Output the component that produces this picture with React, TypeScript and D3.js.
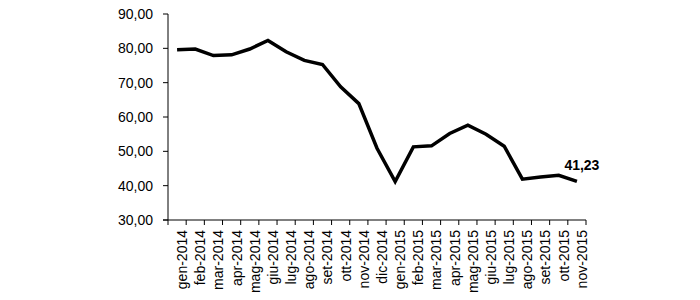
import React from "react";
import * as d3 from "d3";

const categories = [
  "gen-2014","feb-2014","mar-2014","apr-2014","mag-2014","giu-2014","lug-2014","ago-2014","set-2014","ott-2014","nov-2014","dic-2014",
  "gen-2015","feb-2015","mar-2015","apr-2015","mag-2015","giu-2015","lug-2015","ago-2015","set-2015","ott-2015","nov-2015",
];
const values = [
  79.6, 79.8, 77.9, 78.1, 79.8, 82.3, 79.0, 76.5, 75.3, 68.8, 63.9, 50.9,
  41.2, 51.3, 51.6, 55.2, 57.6, 55.0, 51.5, 41.9, 42.5, 43.0, 41.23,
];
const yTicks = [30, 40, 50, 60, 70, 80, 90];
const lastLabel = "41,23";

const W = 700, H = 300;
const left = 168, right = 586, top = 14, bottom = 220;
const FONT = "'Liberation Sans', Arial, sans-serif";

export default function App() {
  const x = d3.scaleBand<string>().domain(categories).range([left, right]).padding(0);
  const y = d3.scaleLinear().domain([30, 90]).range([bottom, top]);
  const cx = (c: string) => (x(c) as number) + x.bandwidth() / 2;
  const line = d3.line<number>().x((_, i) => cx(categories[i])).y((v) => y(v));
  const fmt = (v: number) => v.toFixed(2).replace(".", ",");
  const lastC = categories[categories.length - 1];
  const lastV = values[values.length - 1];
  const boundaries = d3.range(categories.length + 1).map((i) => left + i * x.bandwidth());

  return (
    <div style={{ position: "fixed", left: 0, top: 0 }}>
      <svg width={W} height={H} style={{ display: "block", background: "#fff" }} fontFamily={FONT}>
        <rect width={W} height={H} fill="#fff" />
        {/* y axis */}
        <line x1={left} x2={left} y1={top} y2={bottom} stroke="#000" strokeWidth={1} />
        {yTicks.map((t) => (
          <g key={t}>
            <line x1={left - 5} x2={left} y1={y(t)} y2={y(t)} stroke="#000" strokeWidth={1} />
            <text x={left - 15} y={y(t)} dy="0.35em" textAnchor="end" fontSize={14} fill="#000">
              {fmt(t)}
            </text>
          </g>
        ))}
        {/* x axis */}
        <line x1={left - 5} x2={right} y1={bottom} y2={bottom} stroke="#000" strokeWidth={1} />
        {boundaries.map((b, i) => (
          <line key={i} x1={b} x2={b} y1={bottom} y2={bottom + 5} stroke="#000" strokeWidth={1} />
        ))}
        {categories.map((c) => (
          <text
            key={c}
            transform={`translate(${cx(c) + 5},${bottom + 10}) rotate(-90)`}
            dy="0.35em"
            textAnchor="end"
            fontSize={14}
            fill="#000"
          >
            {c}
          </text>
        ))}
        {/* line */}
        <path d={line(values) as string} fill="none" stroke="#000" strokeWidth={3.5} strokeLinejoin="miter" />
        <text x={cx(lastC) + 5} y={y(lastV) - 11} textAnchor="middle" fontSize={14} fontWeight="bold" fill="#000">
          {lastLabel}
        </text>
      </svg>
    </div>
  );
}
